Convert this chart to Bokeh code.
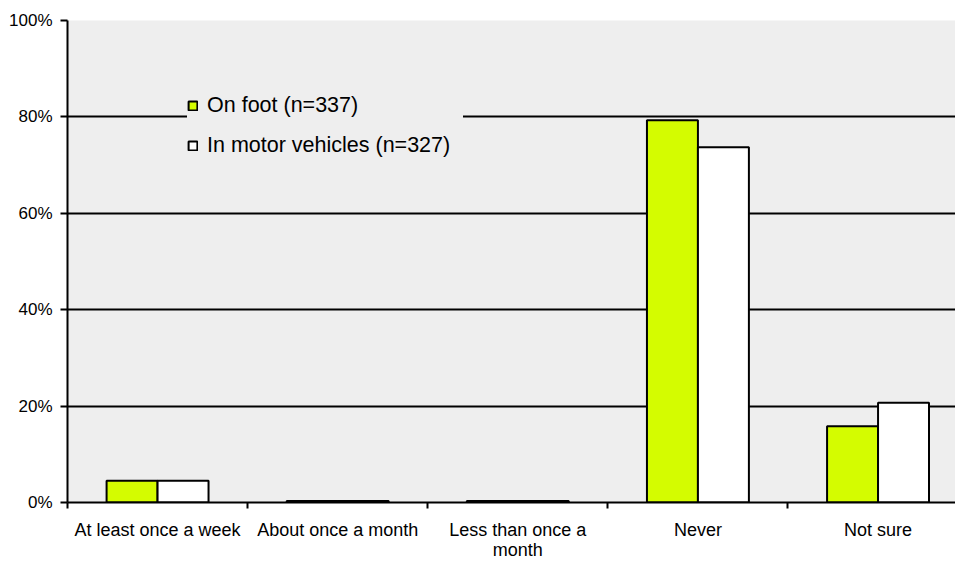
from bokeh.plotting import figure
from bokeh.models import Range1d, FixedTicker, Legend, LegendItem
from bokeh.embed import file_html
from bokeh.resources import INLINE

categories = ["At least once a week", "About once a month", "Less than once a\nmonth", "Never", "Not sure"]
series_names = ["On foot (n=337)", "In motor vehicles (n=327)"]
on_foot = [4.5, 0.3, 0.3, 79.3, 15.8]
in_motor = [4.5, 0.3, 0.3, 73.7, 20.7]
y_ticks = [0, 20, 40, 60, 80, 100]
y_tick_labels = ["0%", "20%", "40%", "60%", "80%", "100%"]

FONT = "Liberation Sans"
GREEN = "#d4fc00"
BG = "#eeeeee"

idx = list(range(1, len(categories) + 1))
bar_w = 0.283

p = figure(width=955, height=562, x_range=Range1d(0.5, 5.43), y_range=Range1d(0, 100),
           output_backend="svg", toolbar_location=None,
           min_border_left=67, min_border_top=20, min_border_right=0, min_border_bottom=59)
p.background_fill_color = BG
p.border_fill_color = "white"
p.outline_line_color = None

r1 = p.vbar(x=[i - bar_w / 2 for i in idx], top=on_foot, width=bar_w,
            fill_color=GREEN, line_color="black", line_width=2)
r2 = p.vbar(x=[i + bar_w / 2 for i in idx], top=in_motor, width=bar_w,
            fill_color="white", line_color="black", line_width=2)

# grid
p.xgrid.visible = False
p.ygrid.ticker = FixedTicker(ticks=y_ticks[1:])
p.ygrid.grid_line_color = "black"
p.ygrid.grid_line_width = 2

# x axis
xa = p.xaxis[0]
xa.ticker = FixedTicker(ticks=idx, minor_ticks=[i - 0.5 for i in idx] + [idx[-1] + 0.5])
xa.major_label_overrides = {i: c for i, c in zip(idx, categories)}
xa.major_tick_out = 0
xa.major_tick_in = 0
xa.minor_tick_out = 6
xa.minor_tick_in = 0
xa.minor_tick_line_color = "black"
xa.minor_tick_line_width = 2
xa.axis_line_color = "black"
xa.axis_line_width = 2
xa.major_label_standoff = 11
xa.major_label_text_font = FONT
xa.major_label_text_font_size = "18px"
xa.major_label_text_line_height = 1.0
xa.major_label_text_color = "black"

# y axis
ya = p.yaxis[0]
ya.ticker = FixedTicker(ticks=y_ticks)
ya.major_label_overrides = {t: l for t, l in zip(y_ticks, y_tick_labels)}
ya.major_tick_out = 7
ya.major_tick_in = 0
ya.major_tick_line_color = "black"
ya.major_tick_line_width = 2
ya.minor_tick_out = 0
ya.minor_tick_in = 0
ya.axis_line_color = "black"
ya.axis_line_width = 2
ya.major_label_standoff = 8
ya.major_label_text_font = FONT
ya.major_label_text_font_size = "17px"
ya.major_label_text_color = "black"

legend = Legend(items=[LegendItem(label=series_names[0], renderers=[r1]),
                       LegendItem(label=series_names[1], renderers=[r2])],
                location=(120, 344))
legend.background_fill_color = BG
legend.background_fill_alpha = 1
legend.border_line_color = None
legend.label_text_font = FONT
legend.label_text_font_size = "21.5px"
legend.label_text_color = "black"
legend.glyph_width = 11
legend.glyph_height = 11
legend.label_height = 23
legend.label_width = 256
legend.spacing = 15
legend.padding = 9
legend.margin = 0
legend.label_standoff = 9
p.add_layout(legend, "center")

open("out.html", "w").write(file_html(p, INLINE))
